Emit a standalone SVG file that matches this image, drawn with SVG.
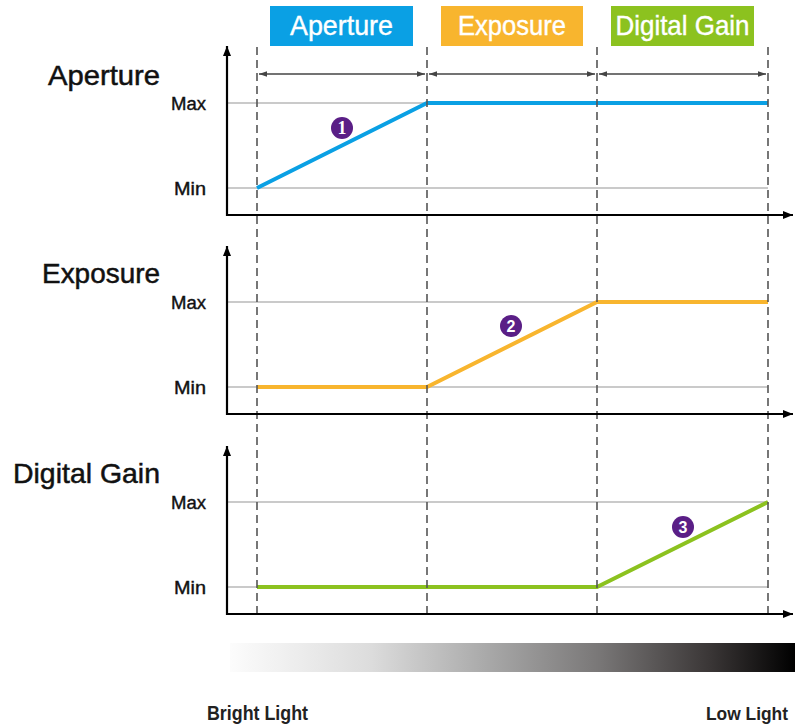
<svg xmlns="http://www.w3.org/2000/svg" width="795" height="727" viewBox="0 0 795 727">
<style>
.hdr{font-family:"Liberation Sans",Arial,sans-serif;font-size:28px;fill:#fff;text-anchor:middle;stroke:#fff;stroke-width:0.4}
.ttl{font-family:"Liberation Sans",Arial,sans-serif;font-size:28px;fill:#111;stroke:#111;stroke-width:0.5}
.lbl{font-family:"Liberation Sans",Arial,sans-serif;font-size:18px;fill:#111;stroke:#111;stroke-width:0.4}
.bot{font-family:"Liberation Sans",Arial,sans-serif;font-size:20px;font-weight:bold;fill:#222}
.axis{stroke:#000;stroke-width:2.2;fill:none}
.grid{stroke:#b8b8b8;stroke-width:1.6;fill:none}
.dash{stroke:#555;stroke-width:1.6;stroke-dasharray:8 5;fill:none}
.span{stroke:#444;stroke-width:1.6;fill:none}
.num{fill:#5a1e86}
.numt{font-family:"Liberation Serif","Times New Roman",serif;font-size:18px;font-weight:bold;fill:#fff;text-anchor:middle}
.numt2{font-family:"Liberation Sans",Arial,sans-serif;font-size:16px;font-weight:bold;fill:#fff;text-anchor:middle}
</style>
<defs>
<marker id="ah" viewBox="0 0 10 10" refX="10" refY="5" markerWidth="8" markerHeight="8" orient="auto-start-reverse" markerUnits="userSpaceOnUse">
<path d="M0,1.5 L10,5 L0,8.5 z" fill="#444"/>
</marker>
<marker id="ax" viewBox="0 0 10 10" refX="10" refY="5" markerWidth="10" markerHeight="10" orient="auto" markerUnits="userSpaceOnUse">
<path d="M0,1 L10,5 L0,9 z" fill="#000"/>
</marker>
<linearGradient id="grad" x1="0" y1="0" x2="1" y2="0">
<stop offset="0" stop-color="#fcfcfc"/>
<stop offset="0.25" stop-color="#dcdcdc"/>
<stop offset="0.45" stop-color="#aaaaaa"/>
<stop offset="0.65" stop-color="#7a7878"/>
<stop offset="0.85" stop-color="#3a3636"/>
<stop offset="1" stop-color="#000"/>
</linearGradient>
</defs>
<rect width="795" height="727" fill="#fff"/>

<g id="header-aperture">
<rect x="270" y="6" width="143" height="40" fill="#0aa0e4"/>
<text class="hdr" x="341.5" y="35" textLength="103" lengthAdjust="spacingAndGlyphs">Aperture</text>
</g>
<g id="header-exposure">
<rect x="441" y="6" width="142" height="40" fill="#f8b52e"/>
<text class="hdr" x="512" y="35" textLength="108" lengthAdjust="spacingAndGlyphs">Exposure</text>
</g>
<g id="header-gain">
<rect x="611" y="6" width="143" height="40" fill="#8cc21f"/>
<text class="hdr" x="682.5" y="35" textLength="134" lengthAdjust="spacingAndGlyphs">Digital Gain</text>
</g>

<g id="grid">
<line class="grid" x1="227" y1="103" x2="768" y2="103"/>
<line class="grid" x1="227" y1="188" x2="768" y2="188"/>
<line class="grid" x1="227" y1="302" x2="768" y2="302"/>
<line class="grid" x1="227" y1="387" x2="768" y2="387"/>
<line class="grid" x1="227" y1="502" x2="768" y2="502"/>
<line class="grid" x1="227" y1="587" x2="768" y2="587"/>
</g>

<g id="curves">
<polyline points="257,188 427,103 768,103" fill="none" stroke="#0aa0e4" stroke-width="4"/>
<polyline points="257,387 427,387 597,302 768,302" fill="none" stroke="#f8b52e" stroke-width="4"/>
<polyline points="257,587 597,587 768,502" fill="none" stroke="#8cc21f" stroke-width="4"/>
</g>

<g id="dashes">
<line class="dash" x1="257" y1="47" x2="257" y2="614"/>
<line class="dash" x1="427" y1="47" x2="427" y2="614"/>
<line class="dash" x1="597" y1="47" x2="597" y2="614"/>
<line class="dash" x1="768" y1="47" x2="768" y2="614"/>
</g>

<g id="connectors">
<line class="span" x1="259" y1="74" x2="425" y2="74" marker-start="url(#ah)" marker-end="url(#ah)"/>
<line class="span" x1="429" y1="74" x2="595" y2="74" marker-start="url(#ah)" marker-end="url(#ah)"/>
<line class="span" x1="599" y1="74" x2="766" y2="74" marker-start="url(#ah)" marker-end="url(#ah)"/>
</g>

<g id="axes">
<line class="axis" x1="227" y1="215" x2="793" y2="215" marker-end="url(#ax)"/>
<line class="axis" x1="227" y1="216" x2="227" y2="46" marker-end="url(#ax)"/>
<line class="axis" x1="227" y1="414" x2="793" y2="414" marker-end="url(#ax)"/>
<line class="axis" x1="227" y1="415" x2="227" y2="246" marker-end="url(#ax)"/>
<line class="axis" x1="227" y1="614" x2="793" y2="614" marker-end="url(#ax)"/>
<line class="axis" x1="227" y1="615" x2="227" y2="446" marker-end="url(#ax)"/>
</g>

<g id="panel-aperture">
<text class="ttl" x="48" y="85" textLength="112" lengthAdjust="spacingAndGlyphs">Aperture</text>
<text class="lbl" x="171" y="110" textLength="35" lengthAdjust="spacingAndGlyphs">Max</text>
<text class="lbl" x="174" y="195" textLength="32" lengthAdjust="spacingAndGlyphs">Min</text>
<circle class="num" cx="342" cy="128" r="11"/>
<text class="numt" x="342" y="134">1</text>
</g>
<g id="panel-exposure">
<text class="ttl" x="42" y="283" textLength="118" lengthAdjust="spacingAndGlyphs">Exposure</text>
<text class="lbl" x="171" y="309" textLength="35" lengthAdjust="spacingAndGlyphs">Max</text>
<text class="lbl" x="174" y="394" textLength="32" lengthAdjust="spacingAndGlyphs">Min</text>
<circle class="num" cx="511" cy="326" r="11"/>
<text class="numt2" x="511" y="332">2</text>
</g>
<g id="panel-gain">
<text class="ttl" x="13" y="483" textLength="147" lengthAdjust="spacingAndGlyphs">Digital Gain</text>
<text class="lbl" x="171" y="509" textLength="35" lengthAdjust="spacingAndGlyphs">Max</text>
<text class="lbl" x="174" y="594" textLength="32" lengthAdjust="spacingAndGlyphs">Min</text>
<circle class="num" cx="683" cy="527" r="11"/>
<text class="numt2" x="683" y="533">3</text>
</g>

<g id="light-scale">
<rect x="230" y="643" width="565" height="29" fill="url(#grad)"/>
<text class="bot" x="207" y="720" textLength="101" lengthAdjust="spacingAndGlyphs">Bright Light</text>
<text class="bot" x="706" y="720" style="font-size:18px" textLength="82" lengthAdjust="spacingAndGlyphs">Low Light</text>
</g>
</svg>
